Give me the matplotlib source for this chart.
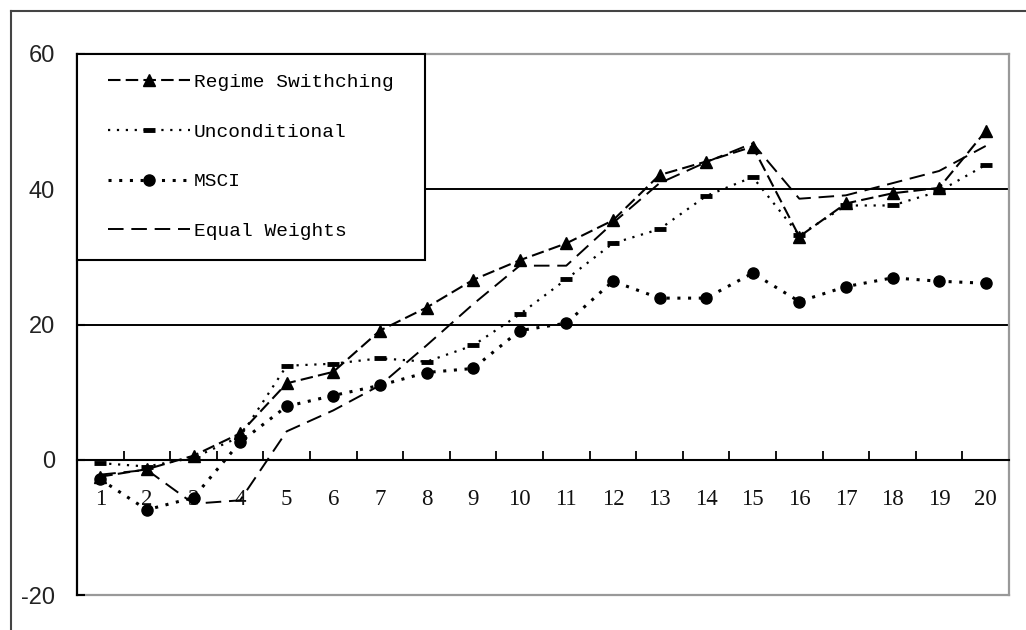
import matplotlib.pyplot as plt
from matplotlib.lines import Line2D
from matplotlib.legend_handler import HandlerLine2D
import numpy as np

periods = list(range(1, 21))
period_labels = [str(p) for p in periods]

regime_switching = [-2.5, -1.4, 0.6, 3.9, 11.3, 13.0, 19.1, 22.5, 26.6, 29.5,
                    32.0, 35.4, 42.1, 44.1, 46.3, 33.0, 37.9, 39.4, 40.2, 48.6]
unconditional = [-0.5, -1.0, 0.3, 3.4, 13.9, 14.2, 15.0, 14.5, 16.9, 21.5,
                 26.7, 32.0, 34.1, 39.0, 41.8, 33.2, 37.6, 37.6, 39.7, 43.6]
msci = [-2.9, -7.4, -5.6, 2.6, 7.9, 9.5, 11.0, 12.9, 13.5, 19.1,
        20.2, 26.4, 23.9, 23.9, 27.6, 23.4, 25.6, 26.9, 26.4, 26.1]
equal_weights = [-2.2, -1.5, -6.5, -6.0, 4.2, 7.3, 11.0, 16.9, 23.0, 28.7,
                 28.7, 35.0, 40.9, 44.0, 46.8, 38.6, 39.1, 40.9, 42.7, 46.4]

y_ticks = [-20, 0, 20, 40, 60]
grid_levels = [20, 40]

fig = plt.figure(figsize=(10.26, 6.3), dpi=100)
ax = fig.add_axes([77/1026, 1 - 595/630, (1009 - 77)/1026, (595 - 54)/630])

# outer frame of the picture (only top and left are visible)
fig.add_artist(Line2D([11/1026, 1], [1 - 11/630, 1 - 11/630], color="#444444", lw=1.5,
                      transform=fig.transFigure))
fig.add_artist(Line2D([11/1026, 11/1026], [0, 1 - 11/630], color="#444444", lw=1.5,
                      transform=fig.transFigure))

x = np.array(periods)

l_rs, = ax.plot(x, regime_switching, color="black", lw=1.5, dashes=(6, 2.5),
                marker="^", markersize=9, label="Regime Swithching ", zorder=4)
l_un, = ax.plot(x, unconditional, color="black", lw=1.6, dashes=(1, 3),
                marker="_", markersize=8, markeredgewidth=3.5, label="Unconditional", zorder=4)
l_ms, = ax.plot(x, msci, color="black", lw=2.2, dashes=(1, 2.5),
                marker="o", markersize=8, label="MSCI", zorder=4)
l_ew, = ax.plot(x, equal_weights, color="black", lw=1.4, dashes=(8, 4),
                label="Equal Weights", zorder=3)

for lvl in grid_levels:
    ax.axhline(lvl, color="black", lw=1.4, zorder=1)

ax.set_xlim(0.5, 20.5)
ax.set_ylim(-20, 60)

ax.spines["bottom"].set_position(("data", 0))
ax.spines["bottom"].set_color("black")
ax.spines["bottom"].set_linewidth(1.5)
ax.spines["left"].set_color("black")
ax.spines["left"].set_linewidth(1.6)
for s in ["top", "right"]:
    ax.spines[s].set_color("#999999")
    ax.spines[s].set_linewidth(1.6)
ax.axhline(-20, color="#999999", lw=1.6, clip_on=False, zorder=1)

ax.set_xticks(periods)
ax.set_xticklabels(period_labels, fontfamily="Liberation Serif", fontsize=16.5, color="#111111")
ax.set_xticks(np.arange(0.5, 21, 1), minor=True)
ax.tick_params(axis="x", which="major", length=0, pad=21)
ax.tick_params(axis="x", which="minor", direction="in", length=6.5, width=1.3, color="black")

ax.set_yticks(y_ticks)
ax.set_yticklabels([str(v) for v in y_ticks], fontfamily="Liberation Sans", fontsize=17,
                   color="#222222")
ax.tick_params(axis="y", direction="in", length=6, width=1.5, pad=16)

hmap = {ln: HandlerLine2D(xpad=0.6) for ln in [l_rs, l_un, l_ms, l_ew]}
leg = ax.legend(loc="upper left", bbox_to_anchor=(0, 1), borderaxespad=0,
                prop={"family": "Liberation Mono", "size": 14}, handler_map=hmap,
                handlelength=4.8, handletextpad=0.2, labelspacing=1.65, borderpad=1.0,
                fancybox=False, framealpha=1, edgecolor="black")
leg.get_frame().set_linewidth(1.5)
leg.set_zorder(6)

fig.savefig("out.png", dpi=100)
